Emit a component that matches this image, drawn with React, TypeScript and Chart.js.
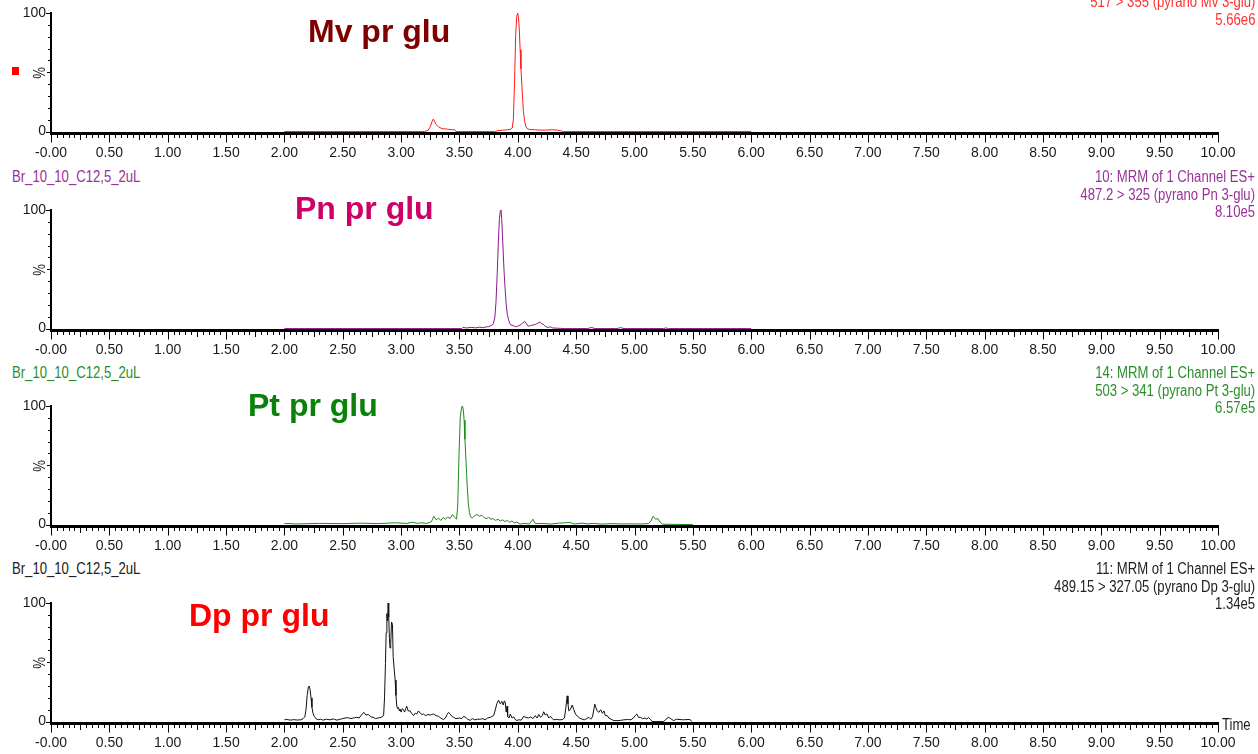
import React, { useEffect, useRef } from 'react';
import { Chart, registerables } from 'chart.js';

Chart.register(...registerables);

// ---------- data (retention time in min, relative intensity in %) ----------
const mvPoints: [number, number][] = [
  [2.0, 0], [3.2, 0], [3.23, 1], [3.25, 4], [3.265, 8.5], [3.275, 10.5], [3.285, 9], [3.3, 6],
  [3.32, 4], [3.35, 2.5], [3.4, 2], [3.44, 1.5], [3.46, 1.5], [3.47, 0], [3.8, 0], [3.83, 0.8],
  [3.87, 1.2], [3.91, 1.5], [3.94, 2], [3.952, 3], [3.962, 10], [3.972, 42], [3.982, 82],
  [3.991, 97], [3.999, 100], [4.006, 96], [4.013, 86], [4.02, 69], [4.027, 53], [4.034, 41],
  [4.041, 28], [4.048, 17], [4.058, 9], [4.068, 4.5], [4.08, 2.5], [4.1, 1.8], [4.15, 1.5],
  [4.2, 1.2], [4.25, 1.3], [4.3, 1.5], [4.34, 1.2], [4.37, 0.6], [4.39, 0], [6.0, 0],
];

const pnPoints: [number, number][] = [
  [2.0, 0], [3.52, 0], [3.53, 1], [3.56, 0.5], [3.6, 1], [3.64, 0.6], [3.67, 1.2], [3.7, 0.8],
  [3.73, 1.4], [3.75, 1.6], [3.77, 2.5], [3.79, 4], [3.803, 9], [3.813, 22], [3.823, 45],
  [3.833, 72], [3.842, 92], [3.85, 99], [3.856, 100], [3.862, 93], [3.869, 78], [3.876, 62],
  [3.883, 47], [3.891, 34], [3.9, 21], [3.91, 12], [3.92, 8], [3.93, 4.5], [3.94, 3],
  [3.96, 2.5], [3.98, 1.5], [4.0, 2], [4.02, 3], [4.04, 4.5], [4.06, 6], [4.075, 4], [4.09, 2],
  [4.11, 2.5], [4.13, 3], [4.15, 3.5], [4.17, 4.5], [4.19, 5.5], [4.205, 4], [4.22, 3.5],
  [4.24, 1.5], [4.26, 1], [4.28, 1.5], [4.3, 0.5], [4.4, 0], [4.6, 0], [4.63, 1], [4.66, 0],
  [4.85, 0], [4.88, 0.8], [4.91, 0], [5.25, 0], [5.27, 0.6], [5.29, 0], [6.0, 0],
];

const ptPoints: [number, number][] = [
  [2.0, 1], [2.1, 0.5], [2.3, 1], [2.5, 0.8], [2.65, 1.2], [2.8, 0.8], [2.95, 1.5], [3.05, 1],
  [3.1, 2], [3.14, 1], [3.17, 1.5], [3.22, 1], [3.26, 2.5], [3.28, 7], [3.3, 4], [3.32, 5.5],
  [3.34, 3.5], [3.36, 6], [3.38, 4.5], [3.4, 6.5], [3.42, 5], [3.44, 8.5], [3.46, 6], [3.475, 4.5],
  [3.485, 15], [3.496, 58], [3.507, 91], [3.519, 99], [3.526, 100], [3.533, 97], [3.54, 88],
  [3.547, 72], [3.554, 58], [3.561, 44], [3.568, 30], [3.576, 17.5], [3.586, 10], [3.596, 6.5],
  [3.61, 5.5], [3.63, 7.5], [3.65, 8.5], [3.67, 7], [3.69, 8], [3.71, 6], [3.73, 5], [3.75, 6],
  [3.77, 4.5], [3.79, 5], [3.81, 3.5], [3.83, 4.5], [3.85, 3], [3.87, 4], [3.89, 2.5], [3.91, 3.5],
  [3.93, 2], [3.95, 3], [3.97, 1.5], [3.99, 2], [4.02, 0.5], [4.06, 1], [4.1, 0.5], [4.13, 4.5],
  [4.15, 0.8], [4.2, 1], [4.28, 0.5], [4.35, 1.2], [4.4, 1.5], [4.45, 1.8], [4.48, 0.5],
  [4.55, 1.2], [4.6, 0.6], [4.65, 1], [4.72, 0.4], [4.8, 0.8], [4.9, 0.5], [4.98, 0.6],
  [5.05, 0.5], [5.12, 0.8], [5.14, 3], [5.16, 7], [5.18, 4.5], [5.2, 5], [5.22, 2], [5.24, 0.3],
  [5.3, 0.2], [5.5, 0],
];

const dpPoints: [number, number][] = [
  [2.0, 1.5], [2.02, 1.8], [2.05, 1.2], [2.08, 1.6], [2.11, 1.3], [2.14, 1.5], [2.16, 2.5],
  [2.175, 4], [2.185, 10], [2.195, 22], [2.205, 29], [2.212, 30], [2.22, 27], [2.228, 20],
  [2.236, 12], [2.245, 7], [2.255, 4.5], [2.27, 2.5], [2.29, 1.5], [2.31, 2], [2.33, 1.2],
  [2.36, 2], [2.39, 1.5], [2.42, 2.2], [2.45, 1.2], [2.48, 2], [2.51, 2.8], [2.54, 3.3],
  [2.57, 2.6], [2.6, 3.2], [2.62, 3.6], [2.64, 3], [2.66, 5.5], [2.68, 7.8], [2.7, 5.5],
  [2.72, 6], [2.74, 4], [2.76, 3.6], [2.78, 2.5], [2.8, 3], [2.83, 3.6], [2.85, 5], [2.858, 20],
  [2.866, 49], [2.872, 75], [2.878, 91], [2.884, 85], [2.889, 100], [2.894, 88], [2.9, 70],
  [2.905, 62], [2.911, 65], [2.918, 84], [2.926, 82], [2.932, 55], [2.94, 45], [2.949, 35],
  [2.956, 22], [2.963, 13], [2.97, 11], [2.977, 12], [2.985, 9], [2.991, 10.5], [3.0, 8],
  [3.01, 11], [3.02, 10], [3.03, 8], [3.04, 11], [3.048, 13], [3.06, 9], [3.077, 9], [3.09, 7],
  [3.106, 5], [3.12, 7], [3.135, 6.5], [3.149, 9], [3.165, 7], [3.18, 6], [3.192, 6.4],
  [3.21, 5], [3.23, 6], [3.25, 5.5], [3.277, 6.4], [3.3, 5], [3.32, 4.5], [3.34, 3],
  [3.363, 1.7], [3.38, 3], [3.395, 6], [3.406, 7.8], [3.42, 6.5], [3.435, 4.5], [3.449, 3.6],
  [3.47, 2.5], [3.5, 3], [3.52, 2.5], [3.535, 4.4], [3.55, 3.8], [3.57, 2], [3.592, 1],
  [3.61, 2.5], [3.63, 1.5], [3.655, 2], [3.678, 2], [3.7, 2.5], [3.72, 1.5], [3.74, 3],
  [3.765, 3.6], [3.792, 5], [3.805, 9], [3.82, 15], [3.835, 18], [3.85, 15], [3.864, 17],
  [3.875, 14], [3.885, 17.5], [3.893, 16], [3.9, 8], [3.908, 13], [3.913, 4.4], [3.925, 3],
  [3.936, 6.4], [3.95, 3], [3.965, 4], [3.98, 1.5], [3.993, 1], [4.01, 1.5], [4.03, 1.2],
  [4.05, 4.4], [4.07, 3.5], [4.09, 3], [4.11, 4], [4.13, 2.5], [4.15, 5], [4.165, 3], [4.18, 6],
  [4.195, 3.5], [4.21, 5], [4.222, 8.3], [4.235, 5.5], [4.25, 6.5], [4.265, 3], [4.28, 4.5],
  [4.295, 2.5], [4.308, 1.5], [4.33, 1.8], [4.36, 1.5], [4.38, 1.6], [4.4, 3], [4.412, 12],
  [4.423, 21.7], [4.43, 15], [4.437, 9], [4.45, 10], [4.466, 14], [4.48, 10], [4.494, 6.4],
  [4.51, 4.5], [4.53, 3], [4.552, 2], [4.57, 1.5], [4.59, 2.5], [4.609, 3.6], [4.625, 2],
  [4.64, 4], [4.66, 14.7], [4.668, 12], [4.68, 9], [4.695, 7.8], [4.71, 10], [4.725, 7],
  [4.738, 9], [4.75, 5], [4.767, 5], [4.78, 3], [4.8, 2], [4.824, 0.8], [4.85, 0.8], [4.88, 1],
  [4.91, 1.5], [4.94, 1.7], [4.97, 1.5], [4.99, 3], [5.005, 5], [5.02, 6.4], [5.035, 3.5],
  [5.05, 3.6], [5.07, 2.5], [5.09, 3], [5.105, 2], [5.12, 3.6], [5.14, 1.5], [5.15, 0],
  [5.25, 0], [5.27, 2], [5.29, 3.6], [5.31, 2.5], [5.335, 0.8], [5.36, 2], [5.39, 1.7],
  [5.42, 1.5], [5.45, 1.7], [5.477, 1.7], [5.49, 0],
];

const xRange = [0, 10];
const yRange = [-1.2, 100];
const yTickValues = [0, 10, 20, 30, 40, 50, 60, 70, 80, 90, 100];
const xLabelStep = 0.5;
const yLabelValues = [0, 100];

const compoundTitles = ['Mv pr glu', 'Pn pr glu', 'Pt pr glu', 'Dp pr glu'];
const sampleName = 'Br_10_10_C12,5_2uL';
const headerLines: string[][] = [
  ['517 > 355 (pyrano Mv 3-glu)', '5.66e6'],
  ['10: MRM of 1 Channel ES+', '487.2 > 325 (pyrano Pn 3-glu)', '8.10e5'],
  ['14: MRM of 1 Channel ES+', '503 > 341 (pyrano Pt 3-glu)', '6.57e5'],
  ['11: MRM of 1 Channel ES+', '489.15 > 327.05 (pyrano Dp 3-glu)', '1.34e5'],
];

// ---------- layout / style ----------
const SANS = "'Liberation Sans', Arial, sans-serif";
const W = 1258;
const CANVAS_H = 165;
const PAD_TOP = 13;
const PLOT_H = 120;
const PLOT_LEFT = 51;
const PAD_RIGHT = 40;
const NARROW_SCALE = 0.82;

const panels = [
  { points: mvPoints, top: 13, line: '#ff1a1a', title: '#800000', titleLeft: 308, titleBase: 42,
    text: '#ff3030', headerTop: -6.6, sample: false },
  { points: pnPoints, top: 210, line: '#8a1a8a', title: '#cc0066', titleLeft: 295, titleBase: 219,
    text: '#993399', headerTop: 168.4, sample: true },
  { points: ptPoints, top: 406, line: '#1a8a1a', title: '#0a820a', titleLeft: 248, titleBase: 416,
    text: '#2a8f2a', headerTop: 364.4, sample: true },
  { points: dpPoints, top: 603, line: '#111111', title: '#ff0000', titleLeft: 189, titleBase: 626,
    text: '#222222', headerTop: 560.4, sample: true },
];

const tickPlugin = {
  id: 'chromTicks',
  afterDraw(chart: any) {
    const { ctx, chartArea } = chart;
    const xs = chart.scales.x;
    const ys = chart.scales.y;
    ctx.save();
    ctx.strokeStyle = '#000';
    ctx.lineWidth = 1;
    xs.ticks.forEach((t: any, i: number) => {
      const px = Math.round(xs.getPixelForTick(i)) + 0.5;
      const q = Math.round(t.value * 100);
      const len = q % 50 === 0 ? 9.5 : q % 25 === 0 ? 7 : 5;
      ctx.beginPath();
      ctx.moveTo(px, chartArea.bottom);
      ctx.lineTo(px, chartArea.bottom + len);
      ctx.stroke();
    });
    ys.ticks.forEach((t: any, i: number) => {
      const py = Math.round(ys.getPixelForTick(i)) + 0.5;
      const len = t.value === 0 || t.value === 100 ? 5 : t.value === 50 ? 4 : 3;
      ctx.beginPath();
      ctx.moveTo(chartArea.left, py);
      ctx.lineTo(chartArea.left - len, py);
      ctx.stroke();
    });
    ctx.restore();
  },
};

function Panel({ points, color, top }: { points: [number, number][]; color: string; top: number }) {
  const ref = useRef<HTMLCanvasElement | null>(null);
  useEffect(() => {
    if (!ref.current) return;
    const chart = new Chart(ref.current, {
      type: 'line',
      data: {
        datasets: [
          {
            data: points.map(([x, y]) => ({ x, y })),
            borderColor: color,
            borderWidth: 1,
            pointRadius: 0,
            tension: 0,
            fill: false,
          },
        ],
      },
      options: {
        animation: false,
        responsive: false,
        events: [],
        layout: { padding: { top: PAD_TOP, right: PAD_RIGHT, left: 0, bottom: 0 } },
        plugins: { legend: { display: false }, tooltip: { enabled: false } },
        scales: {
          x: {
            type: 'linear',
            min: xRange[0],
            max: xRange[1],
            grid: { display: false, drawTicks: true, tickLength: 5 },
            border: { display: true, color: '#000', width: 3 },
            ticks: {
              stepSize: 0.05,
              maxTicksLimit: 1000,
              autoSkip: false,
              maxRotation: 0,
              minRotation: 0,
              padding: 7,
              color: '#1a1a1a',
              font: { family: SANS, size: 14 },
              callback: (v: any) => {
                const n = Number(v);
                const q = Math.round(n * 100);
                if (q % Math.round(xLabelStep * 100) !== 0) return '';
                return q === 0 ? '-0.00' : n.toFixed(2);
              },
            },
            afterFit: (s: any) => {
              s.height = CANVAS_H - PAD_TOP - PLOT_H;
            },
          },
          y: {
            type: 'linear',
            min: yRange[0],
            max: yRange[1],
            grid: { display: false, drawTicks: true, tickLength: 3 },
            border: { display: true, color: '#000', width: 2 },
            afterBuildTicks: (s: any) => {
              s.ticks = yTickValues.map((v) => ({ value: v }));
            },
            ticks: {
              autoSkip: false,
              padding: 2,
              color: '#1a1a1a',
              font: { family: SANS, size: 14 },
              callback: (v: any) => (yLabelValues.includes(Number(v)) ? String(v) : ''),
            },
            afterFit: (s: any) => {
              s.width = PLOT_LEFT;
            },
          },
        },
      },
      plugins: [tickPlugin],
    } as any);
    return () => chart.destroy();
  }, [points, color]);
  return (
    <canvas
      ref={ref}
      width={W}
      height={CANVAS_H}
      style={{ position: 'absolute', left: 0, top: top - PAD_TOP, width: W, height: CANVAS_H }}
    />
  );
}

const narrowText: React.CSSProperties = {
  position: 'absolute',
  fontFamily: SANS,
  fontSize: 16,
  lineHeight: '17.5px',
  whiteSpace: 'nowrap',
};

export default function App() {
  return (
    <div
      style={{
        position: 'fixed',
        left: 0,
        top: 0,
        width: W,
        height: 754,
        overflow: 'hidden',
        background: '#fff',
      }}
    >
      {panels.map((p, i) => (
        <Panel key={i} points={p.points} color={p.line} top={p.top} />
      ))}
      {panels.map((p, i) => (
        <React.Fragment key={'t' + i}>
          <div
            style={{
              position: 'absolute',
              left: p.titleLeft,
              top: p.titleBase - 27,
              fontFamily: SANS,
              fontWeight: 'bold',
              fontSize: 32,
              lineHeight: '32px',
              color: p.title,
              whiteSpace: 'nowrap',
            }}
          >
            {compoundTitles[i]}
          </div>
          <div
            style={{
              ...narrowText,
              right: 3,
              top: p.headerTop,
              textAlign: 'right',
              color: p.text,
              transform: `scaleX(${NARROW_SCALE})`,
              transformOrigin: 'right top',
            }}
          >
            {headerLines[i].map((l, j) => (
              <div key={j}>{l}</div>
            ))}
          </div>
          {p.sample && (
            <div
              style={{
                ...narrowText,
                left: 12,
                top: p.headerTop,
                color: p.text,
                transform: `scaleX(${NARROW_SCALE})`,
                transformOrigin: 'left top',
              }}
            >
              {sampleName}
            </div>
          )}
          <div
            style={{
              ...narrowText,
              left: 40,
              top: p.top + PLOT_H / 2,
              color: '#1a1a1a',
              transform: `translate(-50%, -50%) rotate(-90deg) scaleX(${NARROW_SCALE})`,
            }}
          >
            %
          </div>
        </React.Fragment>
      ))}
      <div style={{ position: 'absolute', left: 12, top: 67, width: 7, height: 8, background: '#ff0000' }} />
      <div
        style={{
          ...narrowText,
          left: 1222,
          top: 716,
          color: '#1a1a1a',
          transform: `scaleX(${NARROW_SCALE})`,
          transformOrigin: 'left top',
        }}
      >
        Time
      </div>
    </div>
  );
}
